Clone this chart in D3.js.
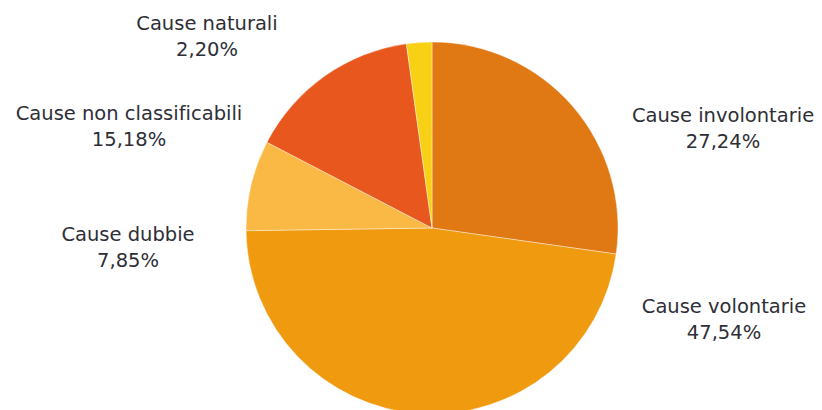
<!DOCTYPE html>
<html>
<head>
<meta charset="utf-8">
<script src="https://cdn.jsdelivr.net/npm/d3@7"></script>
<style>
  body { margin: 0; background: #fff; }
  svg { display: block; }
  text { font-variant-ligatures: none; }
</style>
</head>
<body>
<svg></svg>
<script>
// data, clockwise from 12 o'clock
const categories = ["Cause involontarie", "Cause volontarie", "Cause dubbie", "Cause non classificabili", "Cause naturali"];
const values = [27.24, 47.54, 7.85, 15.18, 2.20];
const colors = ["#e07814", "#f09a10", "#f9b944", "#e8581e", "#f8d117"];

var svgWidth = 822,
    svgHeight = 410;

var svg = d3.select("svg")
    .attr("width", svgWidth)
    .attr("height", svgHeight);

var cx = 432, cy = 228, radius = 186;

var g = svg.append("g")
    .attr("transform", "translate(" + cx + "," + cy + ")");

var pie = d3.pie()
    .sort(null)
    .value(function(d) { return d.value });

var arc = d3.arc()
    .innerRadius(0)
    .outerRadius(radius);

var rows = categories.map(function(c, i) {
    return { name: c, value: values[i], color: colors[i] };
});

g.selectAll("path")
    .data(pie(rows))
    .enter().append("path")
    .attr("d", arc)
    .attr("fill", function(d) { return d.data.color })
    .attr("stroke", "#fff")
    .attr("stroke-width", 0.4);

// label anchor points (layout only)
var labelPos = {
    "Cause involontarie": [723, 122],
    "Cause volontarie": [724, 313],
    "Cause dubbie": [128, 241],
    "Cause non classificabili": [129, 120],
    "Cause naturali": [207, 30]
};

var fmt = function(v) { return v.toFixed(2).replace(".", ",") + "%" };

var labels = svg.selectAll("text.lbl")
    .data(rows)
    .enter().append("text")
    .attr("class", "lbl")
    .attr("text-anchor", "middle")
    .attr("font-family", "'DejaVu Sans', sans-serif")
    .attr("font-size", 19.5)
    .attr("fill", "#2e2e36")
    .attr("transform", function(d) { return "translate(" + labelPos[d.name][0] + "," + labelPos[d.name][1] + ")" });

labels.append("tspan")
    .attr("x", 0)
    .attr("y", 0)
    .text(function(d) { return d.name });

labels.append("tspan")
    .attr("x", 0)
    .attr("y", 26)
    .text(function(d) { return fmt(d.value) });
</script>
</body>
</html>
